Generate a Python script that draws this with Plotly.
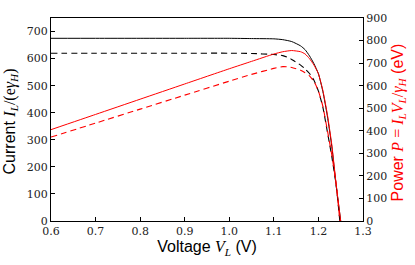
import plotly.graph_objects as go

# Voltage grid (V)
volt_solid = [0.6, 0.7, 0.8, 0.9, 1.0, 1.05, 1.1, 1.12, 1.14, 1.16, 1.17, 1.18, 1.19, 1.2, 1.21, 1.22, 1.23, 1.24, 1.25]
volt_dash = [0.6, 0.7, 0.8, 0.9, 1.0, 1.05, 1.1, 1.12, 1.13, 1.14, 1.16, 1.17, 1.18, 1.19, 1.2, 1.21, 1.22, 1.23, 1.24, 1.248]

# Current I_L/(e gamma_H)
current_solid = [675, 675, 675, 675, 675, 674, 673, 670, 663, 647, 633, 610, 581, 544, 478, 388, 275, 128, 0]
current_dash = [620, 620, 620, 620, 620, 619, 615, 611, 605, 597, 576, 562, 545, 520, 480, 420, 330, 238, 130, 0]

# Power P = I_L V_L / gamma_H (eV)
power_solid = [405, 472.5, 540, 607.5, 675, 707.7, 740.3, 750.4, 755.8, 750.5, 740.6, 719.8, 691.4, 652.8, 578.4, 473.4, 338.3, 158.7, 0]
power_dash = [372, 434, 496, 558, 620, 650, 676.5, 684.3, 683.7, 680.6, 668.2, 657.5, 643.1, 618.8, 576, 508.2, 402.6, 292.7, 161.2, 0]

x_ticks = [0.6, 0.7, 0.8, 0.9, 1.0, 1.1, 1.2, 1.3]

SERIF = "DejaVu Serif"
MATH = "Liberation Serif"
SANS = "Liberation Sans"

fig = go.Figure()
fig.add_trace(go.Scatter(x=volt_solid, y=current_solid, mode="lines",
                         line=dict(color="black", width=1, shape="spline", smoothing=0.5), yaxis="y"))
fig.add_trace(go.Scatter(x=volt_dash, y=current_dash, mode="lines",
                         line=dict(color="black", width=1.1, dash="6px,4px", shape="spline", smoothing=0.5), yaxis="y"))
fig.add_trace(go.Scatter(x=volt_solid, y=power_solid, mode="lines",
                         line=dict(color="#ff0000", width=1, shape="spline", smoothing=0.5), yaxis="y2"))
fig.add_trace(go.Scatter(x=volt_dash, y=power_dash, mode="lines",
                         line=dict(color="#ff0000", width=1.1, dash="6px,4px", shape="spline", smoothing=0.5), yaxis="y2"))


def m(s):
    return f'<span style="font-family:{MATH}"><i>{s}</i></span>'


def r(s):
    return f'<span style="font-family:{MATH}">{s}</span>'


tickfont = dict(family=SERIF, size=11, color="#222222")

fig.update_layout(
    width=415, height=265,
    margin=dict(l=51, r=52, t=13, b=44),
    paper_bgcolor="white", plot_bgcolor="white",
    showlegend=False,
    font=dict(family=SANS, color="black", size=15),
    xaxis=dict(
        range=[0.6, 1.3], tickvals=x_ticks, ticktext=[f"{v:.1f}" for v in x_ticks],
        showgrid=False, zeroline=False,
        showline=True, linecolor="black", linewidth=1.2, mirror=True,
        ticks="inside", ticklen=4, tickcolor="black",
        tickfont=tickfont,
        title=dict(text="Voltage " + m("V<sub>L</sub>") + " (V)",
                   font=dict(family=SANS, size=16, color="black"), standoff=3),
    ),
    yaxis=dict(
        range=[0, 750], dtick=100, tick0=0,
        showgrid=False, zeroline=False,
        showline=True, linecolor="black", linewidth=1.2,
        ticks="inside", ticklen=4, tickcolor="black",
        tickfont=tickfont,
    ),
    yaxis2=dict(
        range=[0, 900], dtick=100, tick0=0, overlaying="y", side="right",
        showgrid=False, zeroline=False,
        showline=True, linecolor="black", linewidth=1.2,
        ticks="inside", ticklen=4, tickcolor="black",
        tickfont=tickfont,
    ),
    annotations=[
        dict(text="Current " + m("I<sub>L</sub>") + r("/(e") + m("γ<sub>H</sub>") + r(")"),
             xref="paper", yref="paper", x=(10 - 51) / 312, y=(221 - 119) / 208,
             xanchor="center", yanchor="middle", textangle=-90, showarrow=False,
             font=dict(family=SANS, size=16, color="black")),
        dict(text="Power " + m("P") + r(" = ") + m("I<sub>L</sub>V<sub>L</sub>") + r("/") + m("γ<sub>H</sub>") + " (eV)",
             xref="paper", yref="paper", x=(398 - 51) / 312, y=(221 - 120) / 208,
             xanchor="center", yanchor="middle", textangle=-90, showarrow=False,
             font=dict(family=SANS, size=16, color="#ff0000")),
    ],
)

fig.write_html("out.html", config={"displayModeBar": False},
               post_script="document.body.style.margin='0';document.body.style.overflow='hidden';")
